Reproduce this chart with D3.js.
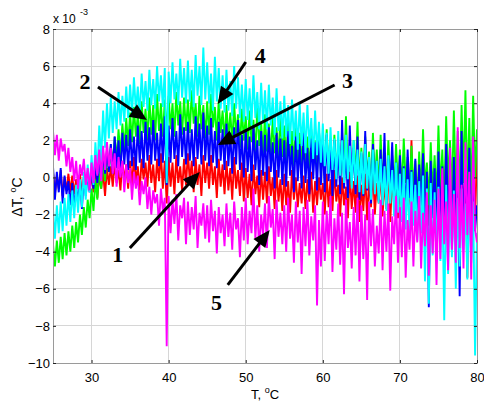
<!DOCTYPE html>
<html>
<head>
<meta charset="utf-8">
<script src="https://cdn.jsdelivr.net/npm/d3@7"></script>
<style>
body { margin: 0; background: #fff; }
svg text { fill: #000; }
</style>
</head>
<body>
<svg width="484" height="404"></svg>
<script>
// sampling grid of the recorded temperature (deg C)
const tStart = 25, tStep = 0.25;

const xTicks = [30, 40, 50, 60, 70, 80];
const yTicks = [-10, -8, -6, -4, -2, 0, 2, 4, 6, 8];

// delta T values, x 10^-3 deg C, one value every 0.25 deg C from 25 to 80
const series1 = [
  0.3,-0.9,0.1,-0.6,0.4,-1.0,0.0,-0.7,0.2,-0.8,
  0.1,-0.9,-0.1,-0.6,0.2,-1.0,0.0,-0.5,0.3,-0.7,
  0.2,-0.8,0.4,-1.1,0.1,-0.6,0.3,-1.0,0.5,-0.4,
  0.6,-0.5,0.8,-0.3,0.4,-0.7,0.9,-0.2,0.7,-0.6,
  0.9,-0.4,1.1,-0.2,0.6,-0.7,1.0,-0.1,0.8,-0.5,
  1.2,-0.3,0.7,-0.8,1.0,-0.2,1.3,-0.6,0.9,-1.4,
  1.1,-0.5,0.8,-0.9,1.2,-0.3,0.6,-0.7,1.0,-0.4,
  1.3,-0.2,0.9,-0.8,1.1,-0.4,0.7,-1.0,1.2,-0.3,
  0.8,-0.6,1.2,-0.4,0.6,-1.1,1.0,-0.5,0.7,-0.9,
  0.9,-0.7,0.5,-1.2,1.1,-0.6,0.4,-1.0,0.8,-1.3,
  0.5,-1.1,0.2,-1.5,0.7,-0.9,0.1,-1.6,0.4,-1.2,
  0.3,-1.4,0.6,-1.0,0.0,-1.7,0.4,-1.3,-0.1,-1.8,
  0.2,-1.5,-0.2,-1.9,0.4,-1.2,0.0,-1.6,-0.3,-1.4,
  0.1,-1.7,-0.1,-1.3,0.3,-1.9,-0.2,-1.5,0.0,-1.2,
  -0.3,-2.0,0.2,-1.6,-0.1,-1.8,0.4,-1.3,-0.4,-2.1,
  0.0,-1.5,-0.5,-2.2,0.3,-1.7,-0.2,-1.9,0.1,-2.4,
  -0.4,-1.8,0.2,-2.3,-0.1,-1.6,0.5,-2.0,-0.3,-1.4,
  0.3,-2.1,-0.2,-1.7,0.6,-2.4,0.0,-1.5,-0.5,-2.2,
  0.1,-1.9,-0.3,-2.5,0.4,-1.6,2.0,-2.0,-0.2,-1.8,
  -0.4,-2.3,0.2,-1.7,-0.1,-2.6,0.5,-1.9,-0.6,-2.1,
  0.0,-2.4,0.7,-1.8,-0.3,-2.7,0.3,-2.0,1.0,-2.5,
  -0.2,-1.6,1.1,-2.4,0.4,-5.4,1.5,-1.9,0.6,-2.3,
  1.4
];
const series2 = [
  -3.6,-4.8,-3.4,-4.6,-3.2,-4.4,-3.0,-4.2,-2.9,-4.0,
  -2.6,-3.8,-2.4,-3.5,-2.0,-3.1,-1.6,-2.7,-1.2,-2.2,
  -0.6,-1.8,-0.1,-1.2,0.5,-0.6,1.0,-0.2,1.4,0.3,
  1.8,0.5,2.2,0.9,2.6,1.1,2.9,1.5,3.2,1.7,
  3.5,1.9,3.8,2.2,3.4,1.8,4.1,2.4,3.7,2.0,
  4.3,2.3,3.9,2.0,4.5,2.5,4.0,2.2,4.2,2.4,
  4.4,2.6,4.0,2.2,4.6,2.8,4.1,2.3,4.3,2.5,
  4.2,2.4,4.7,2.9,4.0,2.2,4.4,2.6,3.9,2.1,
  4.1,2.3,4.5,2.7,3.8,2.0,4.2,2.4,3.6,1.9,
  3.9,2.1,3.5,1.8,4.0,2.2,3.4,1.6,3.7,2.0,
  3.3,1.5,3.6,1.9,3.1,1.3,3.8,1.7,3.0,1.2,
  3.4,1.4,2.9,1.0,3.2,1.3,2.7,0.9,3.5,1.1,
  2.8,0.8,3.1,1.0,2.5,0.6,2.9,0.9,2.4,0.5,
  2.7,0.7,2.2,0.3,2.6,0.6,2.0,0.2,2.5,0.4,
  2.1,0.1,2.6,0.3,1.8,-0.2,2.3,0.0,1.9,-0.3,
  2.4,0.0,3.3,0.2,1.7,-0.4,2.0,-0.1,3.0,-0.5,
  1.6,-0.6,2.2,-0.2,1.4,-0.8,2.4,-0.3,1.5,-0.7,
  2.3,-0.4,1.3,-0.9,2.0,-0.5,1.2,-1.0,1.8,-0.6,
  1.5,-0.8,2.1,-0.3,1.1,-1.2,1.7,-0.7,0.9,-1.4,
  1.4,-1.0,2.6,-0.6,0.8,-1.5,1.9,-0.9,1.2,-1.3,
  2.8,-0.8,1.5,-1.6,3.3,-0.4,2.0,-1.2,3.6,-0.6,
  2.5,-1.1,3.9,-0.3,4.7,-0.9,3.2,-1.4,4.4,0.0,
  2.6
];
const series3 = [
  0.6,-1.2,0.3,-0.8,0.5,-1.4,0.1,-0.9,-0.2,-1.5,
  -0.3,-1.6,-0.5,-1.3,-0.1,-1.7,0.0,-1.0,0.2,-0.8,
  0.4,-0.6,0.7,-0.3,1.0,-0.1,1.3,0.2,1.5,0.3,
  1.8,0.2,2.2,0.5,2.0,0.1,2.4,0.7,2.3,0.4,
  2.6,0.6,2.2,0.4,2.8,0.8,2.5,0.5,3.0,0.9,
  2.7,0.7,3.1,0.9,2.4,0.6,2.9,0.8,3.3,-0.4,
  2.8,0.8,3.2,1.0,2.5,0.6,3.4,1.1,2.7,0.7,
  3.0,0.9,2.6,0.6,3.3,1.0,2.9,0.7,3.5,0.9,
  2.8,0.6,3.2,0.8,2.5,0.5,3.0,0.9,2.6,0.4,
  2.9,0.6,2.4,0.2,2.7,0.7,3.1,0.4,2.3,0.0,
  2.6,0.3,2.2,-0.2,2.8,0.4,2.0,-0.4,2.5,0.1,
  2.3,-0.2,2.7,0.3,1.9,-0.6,2.4,0.0,2.1,-0.4,
  2.0,-0.5,2.5,0.1,1.7,-0.8,2.2,-0.2,1.8,-0.6,
  2.4,-0.3,1.6,-0.9,2.1,-0.1,1.9,-0.7,2.6,-0.4,
  1.8,-0.8,2.3,-0.2,1.5,-1.0,2.0,-0.5,1.7,-0.9,
  3.1,-0.6,1.4,-1.1,2.8,-0.3,1.6,-0.9,2.2,-1.2,
  1.3,-1.0,2.5,-0.7,1.1,-1.4,1.8,-0.5,0.9,-1.3,
  1.5,-0.9,2.4,-1.5,1.0,-0.6,1.9,-1.2,0.8,-1.7,
  1.2,-1.4,0.6,-2.0,1.5,-1.1,0.4,-1.8,1.0,-2.3,
  0.7,-1.9,1.3,-2.6,0.3,-7.0,0.9,-2.2,0.5,-3.1,
  1.4,-2.5,0.6,-3.4,1.8,-2.1,0.2,-3.8,1.1,-2.8,
  0.8,-6.4,2.5,-3.2,0.5,-2.6,1.6,-3.5,0.3,-2.9,
  -1.5
];
const series4 = [
  -1.7,-3.3,-1.5,-3.0,-1.3,-2.9,-1.1,-2.6,-0.9,-2.4,
  -0.7,-2.2,-0.4,-1.9,-0.1,-1.6,0.3,-1.2,0.7,-0.8,
  1.2,-0.4,1.9,0.2,2.8,0.9,3.6,1.6,4.0,2.1,
  4.3,2.4,4.1,2.6,4.6,2.8,4.4,3.0,4.9,3.2,
  5.0,3.4,5.4,3.6,4.9,3.3,5.6,3.8,5.2,3.6,
  5.8,3.9,5.3,3.7,6.0,4.1,5.5,3.8,5.9,-0.3,
  5.7,4.0,6.2,4.2,5.6,3.9,6.4,4.3,5.9,4.0,
  6.3,4.1,5.8,3.8,6.6,4.4,6.0,3.9,7.0,4.2,
  6.2,4.0,5.6,3.6,6.5,4.1,5.9,3.7,5.5,3.5,
  5.8,3.6,5.2,3.3,6.0,3.7,5.4,3.2,5.0,3.0,
  5.3,3.1,4.8,2.8,5.5,3.2,4.6,2.6,5.1,2.9,
  4.7,2.6,5.0,2.8,4.3,2.3,4.8,2.5,4.1,2.1,
  4.4,2.2,3.9,1.8,4.2,2.0,3.6,1.5,4.0,1.7,
  3.5,1.3,3.9,1.6,3.2,1.0,3.6,1.2,3.0,0.8,
  2.9,0.6,2.4,0.2,2.7,0.4,2.1,-0.1,2.5,0.1,
  2.0,-0.3,2.3,-0.1,1.7,-0.6,2.0,-0.4,1.5,-0.8,
  1.4,-0.9,1.8,-0.6,1.1,-1.2,1.5,-0.9,0.9,-1.4,
  1.0,-1.5,0.6,-1.8,1.2,-1.4,0.4,-2.1,0.8,-1.9,
  0.2,-2.4,0.5,-2.8,-0.1,-3.1,0.3,-2.6,-0.4,-3.4,
  -0.2,-3.0,0.1,-5.6,-0.6,-6.8,-0.3,-4.2,-0.8,-3.9,
  -0.5,-4.5,-1.0,-7.7,-0.4,-5.2,-1.2,-4.3,-0.7,-6.0,
  -1.1,-4.8,-0.6,-3.9,-1.4,-5.5,-0.9,-4.6,-1.3,-9.6,
  -3.0
];
const series5 = [
  2.5,1.2,2.3,0.9,2.1,1.4,1.8,0.6,1.6,0.3,
  1.1,-0.2,0.9,-0.6,0.7,0.1,1.0,-0.4,0.5,-0.7,
  0.8,-0.3,1.2,0.1,1.5,-0.2,1.7,0.4,1.9,0.6,
  1.6,0.2,1.3,-0.5,1.1,0.0,0.9,-0.8,0.7,-0.3,
  0.5,-1.2,0.3,-0.6,0.1,-1.5,-0.2,-0.9,0.0,-1.7,
  -0.5,-2.0,-0.7,-1.4,-0.9,-2.6,-0.6,-1.8,-1.1,-9.1,
  -1.0,-3.0,-1.2,-2.5,-0.9,-3.4,-1.5,-2.2,-1.1,-3.6,
  -1.3,-3.1,-1.6,-2.8,-1.0,-3.8,-1.9,-2.6,-1.4,-3.3,
  -1.5,-3.5,-1.2,-2.9,-1.8,-4.1,-1.6,-3.0,-2.0,-3.7,
  -1.4,-3.2,-1.9,-3.9,-1.3,-2.8,-2.2,-4.3,-1.6,-3.4,
  -1.1,-3.6,-1.8,-3.0,-0.6,-3.3,-1.5,-4.0,-2.0,-3.1,
  -1.4,-3.8,-1.0,-2.7,-1.7,-4.4,-1.2,-3.2,-1.9,-3.6,
  -1.5,-4.0,-1.1,-3.3,-2.0,-4.6,-1.3,-3.5,-1.8,-5.2,
  -1.6,-3.7,-1.2,-4.2,-2.1,-3.4,-1.5,-6.9,-2.3,-4.8,
  -1.3,-4.5,-1.8,-3.6,-1.0,-5.1,-2.2,-3.9,-1.4,-4.7,
  -1.9,-6.3,-1.2,-3.8,-2.4,-4.9,-1.6,-4.2,-1.1,-5.6,
  -1.5,-4.4,-2.0,-6.6,-1.3,-3.7,-1.7,-4.8,-2.6,-4.1,
  -1.2,-5.0,-1.8,-4.0,-1.4,-6.1,-2.1,-3.6,-1.0,-4.6,
  -1.6,-4.3,-1.1,-5.4,-2.3,-3.9,-1.3,-4.8,-1.8,-3.5,
  -1.0,-4.9,-1.9,-3.7,-0.8,-5.3,-1.5,-4.1,-1.2,-5.8,
  -0.6,-4.4,0.5,-3.6,-1.3,-5.0,1.6,-3.9,-0.9,-4.6,
  2.7,-3.8,-0.4,-4.9,1.9,-3.1,0.3,-5.5,2.2,-2.8,
  -3.5
];

const seriesNames = ["1", "2", "3", "4", "5"];
const seriesColors = ["#ff0000", "#00ff00", "#0000ff", "#00ffff", "#ff00ff"];

// arrow annotations in data coordinates [T, dT]
const labelAt = [[33.4, -4.55], [29.15, 4.77], [63.2, 4.82], [51.9, 6.17], [46.2, -7.14]];
const arrowFrom = [[34.97, -3.8], [30.83, 4.88], [61.53, 4.98], [50.0, 6.22], [47.67, -5.79]];
const arrowTo = [[44.04, 0.3], [37.18, 3.1], [46.37, 1.75], [46.37, 3.96], [53.11, -2.83]];

const sansFont = "'Liberation Sans', Arial, Helvetica, sans-serif";
const serifFont = "'Liberation Serif', 'Times New Roman', serif";

function drawChart() {
    var svg = d3.select("svg"),
        left = 53, right = 477, top = 29, bottom = 363;

    var x = d3.scaleLinear().domain([25, 80]).range([left, right]);
    var y = d3.scaleLinear().domain([-10, 8]).range([bottom, top]);

    // grid
    var grid = svg.append("g");
    grid.selectAll(".gx")
        .data(xTicks.filter(function(d) { return d > 25 && d < 80; }))
        .enter().append("line")
        .attr("x1", function(d) { return x(d); })
        .attr("x2", function(d) { return x(d); })
        .attr("y1", top).attr("y2", bottom)
        .attr("stroke", "#d6d6d6").attr("stroke-width", 1)
        .attr("shape-rendering", "crispEdges");
    grid.selectAll(".gy")
        .data(yTicks.filter(function(d) { return d > -10 && d < 8; }))
        .enter().append("line")
        .attr("x1", left).attr("x2", right)
        .attr("y1", function(d) { return y(d); })
        .attr("y2", function(d) { return y(d); })
        .attr("stroke", "#d6d6d6").attr("stroke-width", 1)
        .attr("shape-rendering", "crispEdges");

    svg.append("clipPath").attr("id", "plotclip")
        .append("rect")
        .attr("x", left).attr("y", top)
        .attr("width", right - left).attr("height", bottom - top);

    var line = d3.line()
        .x(function(d, i) { return x(tStart + i * tStep); })
        .y(function(d) { return y(d); });

    var allSeries = [series1, series2, series3, series4, series5];
    svg.append("g").attr("clip-path", "url(#plotclip)")
        .selectAll("path")
        .data(allSeries)
        .enter().append("path")
        .attr("d", line)
        .attr("fill", "none")
        .attr("stroke", function(d, i) { return seriesColors[i]; })
        .attr("stroke-width", 1.9)
        .attr("stroke-linejoin", "bevel");

    // axes box
    svg.append("rect")
        .attr("x", left).attr("y", top)
        .attr("width", right - left).attr("height", bottom - top)
        .attr("fill", "none").attr("stroke", "#9a9a9a")
        .attr("shape-rendering", "crispEdges");

    svg.append("g").attr("transform", "translate(" + left + ",0)")
        .call(d3.axisLeft(y).tickValues(yTicks).tickSizeInner(-3).tickSizeOuter(0).tickPadding(3));
    svg.append("g").attr("transform", "translate(0," + bottom + ")")
        .call(d3.axisBottom(x).tickValues(xTicks).tickSizeInner(-3).tickSizeOuter(0).tickPadding(10));
    svg.append("g").attr("transform", "translate(0," + top + ")")
        .call(d3.axisTop(x).tickValues(xTicks).tickSizeInner(-3).tickSizeOuter(0).tickFormat(""));
    svg.append("g").attr("transform", "translate(" + right + ",0)")
        .call(d3.axisRight(y).tickValues(yTicks).tickSizeInner(-3).tickSizeOuter(0).tickFormat(""));

    svg.selectAll(".domain").remove();
    svg.selectAll(".tick line").attr("stroke", "#222");
    svg.selectAll(".tick text")
        .style("font-family", sansFont)
        .style("font-size", "13px").attr("fill", "#000");

    // exponent
    svg.append("text").attr("x", 53).attr("y", 23)
        .style("font-family", sansFont).style("font-size", "12px").text("x 10");
    svg.append("text").attr("x", 80).attr("y", 15)
        .style("font-family", sansFont).style("font-size", "9px").text("-3");

    // axis labels
    var yl = svg.append("text")
        .attr("transform", "translate(22,197) rotate(-90)")
        .attr("text-anchor", "middle")
        .style("font-family", sansFont).style("font-size", "14px");
    yl.append("tspan").text("\u0394T, ");
    yl.append("tspan").style("font-size", "9px").attr("dy", -6).text("o");
    yl.append("tspan").attr("dy", 6).text("C");

    var xl = svg.append("text")
        .attr("x", 265).attr("y", 399)
        .attr("text-anchor", "middle")
        .style("font-family", sansFont).style("font-size", "13px");
    xl.append("tspan").text("T, ");
    xl.append("tspan").style("font-size", "9px").attr("dy", -6).text("o");
    xl.append("tspan").attr("dy", 6).text("C");

    // arrows with curve numbers
    var ann = svg.append("g");
    seriesNames.forEach(function(name, i) {
        var x0 = x(arrowFrom[i][0]), y0 = y(arrowFrom[i][1]);
        var x1 = x(arrowTo[i][0]), y1 = y(arrowTo[i][1]);
        var dx = x1 - x0, dy = y1 - y0, len = Math.sqrt(dx * dx + dy * dy);
        var ux = dx / len, uy = dy / len;
        var headLen = 17, headW = 7.5;
        var bx = x1 - ux * headLen, by = y1 - uy * headLen;
        ann.append("line")
            .attr("x1", x0).attr("y1", y0)
            .attr("x2", bx + ux * 2).attr("y2", by + uy * 2)
            .attr("stroke", "#000").attr("stroke-width", 3);
        ann.append("path")
            .attr("d", "M" + x1 + "," + y1 +
                "L" + (bx - uy * headW) + "," + (by + ux * headW) +
                "L" + (bx + uy * headW) + "," + (by - ux * headW) + "Z")
            .attr("fill", "#000");
        ann.append("text")
            .attr("x", x(labelAt[i][0])).attr("y", y(labelAt[i][1]))
            .attr("text-anchor", "middle")
            .style("font-family", serifFont)
            .style("font-weight", "bold").style("font-size", "22px")
            .text(name);
    });
}

drawChart();
</script>
</body>
</html>
